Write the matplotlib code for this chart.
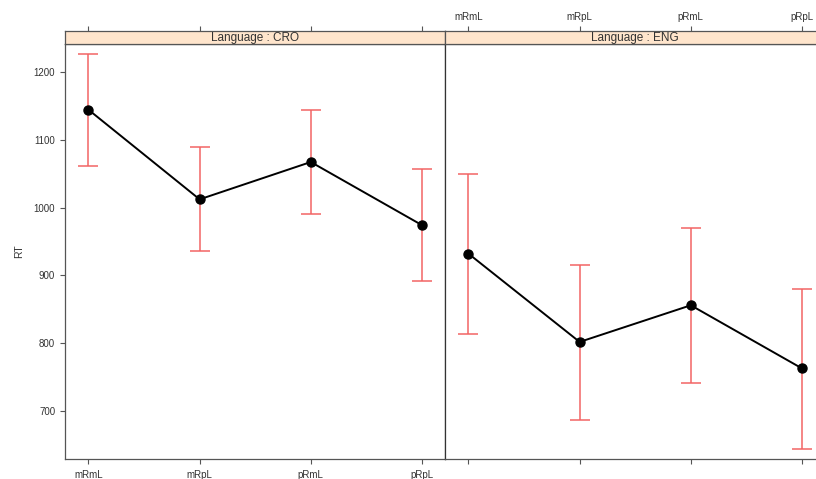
import numpy as np
import matplotlib
matplotlib.use('Agg')
import matplotlib.pyplot as plt

plt.rcParams['font.family'] = ['Liberation Sans', 'DejaVu Sans']

# condition means and interval bounds
conditions = ['mRmL', 'mRpL', 'pRmL', 'pRpL']
cro_rt = [1144, 1012, 1067, 974]
cro_lower = [1061, 936, 990, 892]
cro_upper = [1226, 1089, 1144, 1056]
eng_rt = [932, 802, 856, 763]
eng_lower = [814, 687, 741, 644]
eng_upper = [1049, 915, 970, 880]
languages = ['CRO', 'ENG']

axis_col = '#555555'
text_col = '#333333'
bar_col = '#F26464'
strip_col = '#FFE5CC'

W, H = 816, 479
fig = plt.figure(figsize=(W / 100, H / 100), dpi=100)

# panel geometry in pixels
left_px, mid_px, pw_px = 65, 445, 380
top_px, bot_px = 44, 459
strip_h = 13.5

panels = [
    (left_px, cro_rt, cro_lower, cro_upper),
    (mid_px, eng_rt, eng_lower, eng_upper),
]

x = np.arange(1, len(conditions) + 1)
for i, (x0, rt, lo, up) in enumerate(panels):
    ax = fig.add_axes([x0 / W, 1 - bot_px / H, pw_px / W, (bot_px - top_px) / H])
    rt = np.array(rt)
    err = np.vstack([rt - np.array(lo), np.array(up) - rt])
    ax.errorbar(x, rt, yerr=err, fmt='none', ecolor=bar_col, elinewidth=1.1,
                capsize=7, capthick=1.1, zorder=2)
    ax.plot(x, rt, color='black', lw=1.4, marker='o', ms=6.5, zorder=3)
    ax.set_xlim(0.789, 4.207)
    ax.set_ylim(629.6, 1240.8)
    for s in ax.spines.values():
        s.set_color(axis_col)
        s.set_linewidth(0.9)
    ax.set_xticks(x)
    ax.set_xticklabels(conditions)
    ax.tick_params(axis='both', direction='out', length=3.6, width=0.8,
                   color=axis_col, labelsize=7, labelcolor=text_col)
    # top ticks go above the strip, so the panel itself only gets bottom ticks
    ax.tick_params(axis='x', top=False, bottom=True, labeltop=False,
                   labelbottom=(i == 0), pad=4.5)
    if i == 0:
        ax.set_yticks([700, 800, 900, 1000, 1100, 1200])
        ax.tick_params(axis='y', left=True, right=False, labelleft=True, pad=3.5)
        ax.set_ylabel('RT', fontsize=7.5, color=text_col, labelpad=7)
    else:
        ax.set_yticks([])
        ax.spines['left'].set_color('#333333')

    # strip above the panel
    sax = fig.add_axes([x0 / W, 1 - top_px / H, pw_px / W, strip_h / H])
    sax.set_facecolor(strip_col)
    sax.set_yticks([])
    for s in sax.spines.values():
        s.set_color(axis_col)
        s.set_linewidth(0.9)
    sax.text(0.5, 0.45, 'Language : ' + languages[i], ha='center', va='center',
             fontsize=8.5, color=text_col, transform=sax.transAxes)
    sax.set_xlim(ax.get_xlim())
    sax.set_xticks(x)
    sax.set_xticklabels(conditions)
    sax.tick_params(axis='x', top=True, bottom=False, labelbottom=False,
                    labeltop=(i == 1), direction='out', length=3.6, width=0.8,
                    color=axis_col, labelsize=7, labelcolor=text_col, pad=2.5)

fig.savefig('out.png', dpi=100)
